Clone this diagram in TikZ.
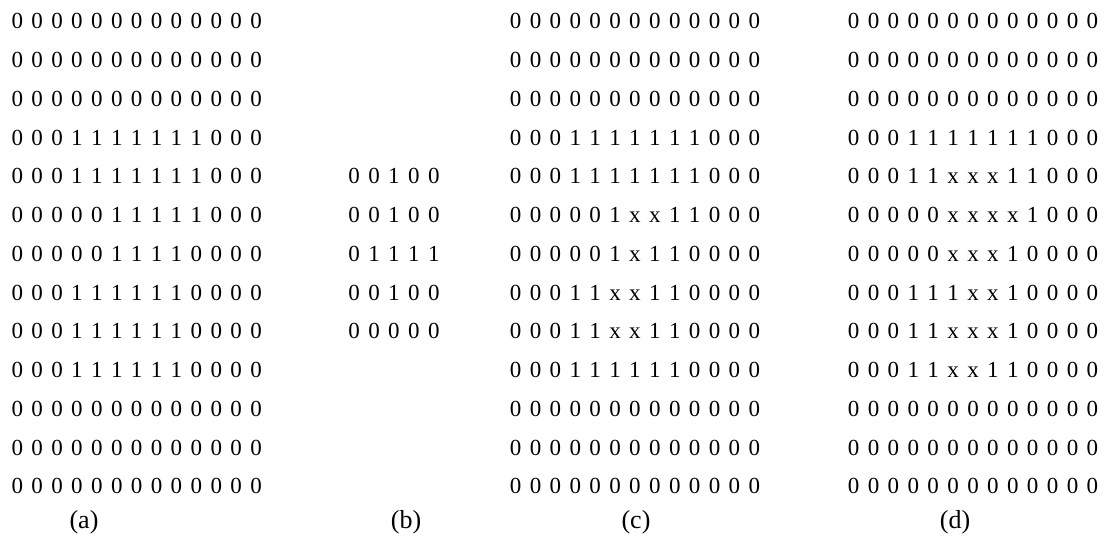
\documentclass[tikz,border=0pt]{standalone}
\usepackage{fontspec}
\setmainfont{Liberation Serif}

\newcommand\cellw{19.9pt}
% one fixed-width box per bit
\def\docells#1{\ifx#1\relax\else\makebox[\cellw]{#1}\expandafter\docells\fi}
\newcommand\cellrow[1]{\edef\tmprow{#1}\expandafter\docells\tmprow\relax}

\tikzset{
  bitrow/.style={anchor=base, inner sep=0pt, font=\fontsize{23}{23}\selectfont},
  caption/.style={anchor=base, inner sep=0pt, font=\fontsize{26}{26}\selectfont}
}

\begin{document}
\begin{tikzpicture}[x=1pt,y=-1pt]
    \def\ytop{28.8} % baseline of first row
    \def\dy{38.75} % row pitch
    \def\ycap{528.5} % baseline of the captions
    \useasboundingbox (0,0) rectangle (1116,543);

    % (a) input
    \foreach \r [count=\i] in {0000000000000,0000000000000,0000000000000,
        0001111111000,0001111111000,0000011111000,0000011110000,
        0001111110000,0001111110000,0001111110000,
        0000000000000,0000000000000,0000000000000} {
        \node[bitrow] (a\i) at (136.7, {\ytop+(\i-1)*\dy}) {\cellrow{\r}};
    }
    \node[caption] (capa) at (84,\ycap) {(a)};

    % (b) structuring element
    \foreach \r [count=\i] in {00100,00100,01111,00100,00000} {
        \node[bitrow] (b\i) at (394, {\ytop+(\i+3)*\dy}) {\cellrow{\r}};
    }
    \node[caption] (capb) at (406,\ycap) {(b)};

    % (c)
    \foreach \r [count=\i] in {0000000000000,0000000000000,0000000000000,
        0001111111000,0001111111000,000001xx11000,000001x110000,
        00011xx110000,00011xx110000,0001111110000,
        0000000000000,0000000000000,0000000000000} {
        \node[bitrow] (c\i) at (635, {\ytop+(\i-1)*\dy}) {\cellrow{\r}};
    }
    \node[caption] (capc) at (636,\ycap) {(c)};

    % (d)
    \foreach \r [count=\i] in {0000000000000,0000000000000,0000000000000,
        0001111111000,00011xxx11000,00000xxxx1000,00000xxx10000,
        000111xx10000,00011xxx10000,00011xx110000,
        0000000000000,0000000000000,0000000000000} {
        \node[bitrow] (d\i) at (973, {\ytop+(\i-1)*\dy}) {\cellrow{\r}};
    }
    \node[caption] (capd) at (955,\ycap) {(d)};
\end{tikzpicture}
\end{document}
